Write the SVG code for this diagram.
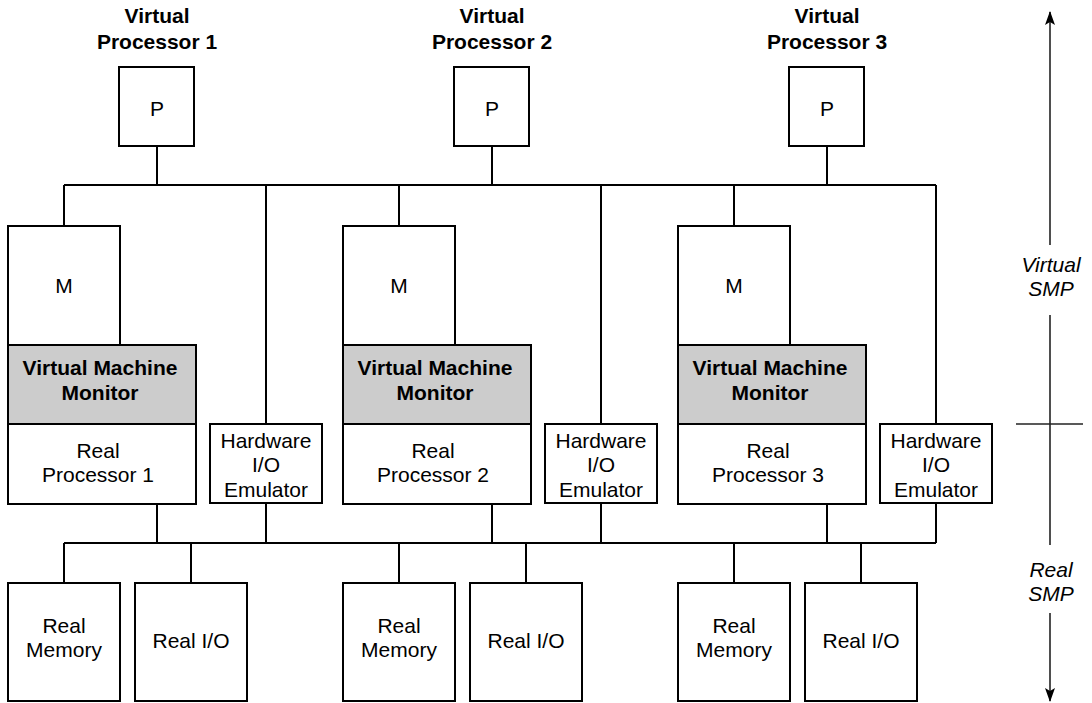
<svg xmlns="http://www.w3.org/2000/svg" width="1092" height="703" viewBox="0 0 1092 703">
<style>
text{font-family:"Liberation Sans",Arial,sans-serif;font-size:21px;fill:#000;text-anchor:middle}
.b{font-weight:bold}
.i{font-style:italic}
.box{fill:#fff;stroke:#000;stroke-width:2}
.vmm{fill:#cccccc;stroke:#000;stroke-width:2}
.ln{fill:none;stroke:#000;stroke-width:2}
.ax{fill:none;stroke:#222;stroke-width:1.6}
</style>
<defs>
<marker id="ah" viewBox="0 0 14 10" refX="13" refY="5" markerWidth="14" markerHeight="10" markerUnits="userSpaceOnUse" orient="auto">
<path d="M0,0 L14,5 L0,10 L3,5 Z" fill="#000"/>
</marker>
</defs>
<g id="connectors">
<path class="ln" d="M64,185 H936 M157,146 V185 M492,146 V185 M827,146 V185 M64,185 V226 M399,185 V226 M734,185 V226 M266,185 V424 M601,185 V424 M936,185 V424"/>
<path class="ln" d="M64,543 H936 M157,504 V543 M492,504 V543 M827,504 V543 M266,503 V543 M601,503 V543 M936,503 V543 M64,543 V583 M399,543 V583 M734,543 V583 M191,543 V583 M526,543 V583 M861,543 V583"/>
</g>
<g id="axis">
<line class="ax" x1="1050" y1="245" x2="1050" y2="12" marker-end="url(#ah)"/>
<line class="ax" x1="1050" y1="315" x2="1050" y2="545"/>
<line class="ax" x1="1050" y1="613" x2="1050" y2="701" marker-end="url(#ah)"/>
<line class="ax" x1="1016" y1="424" x2="1083" y2="424"/>
<text class="i" x="1051" y="272">Virtual</text>
<text class="i" x="1051" y="296">SMP</text>
<text class="i" x="1051" y="577">Real</text>
<text class="i" x="1051" y="601">SMP</text>
</g>
<g id="vp1"><text class="b" x="157" y="23">Virtual</text><text class="b" x="157" y="49">Processor 1</text><rect class="box" x="119" y="67" width="75" height="79"/><text x="157" y="116">P</text></g>
<g id="vp2"><text class="b" x="492" y="23">Virtual</text><text class="b" x="492" y="49">Processor 2</text><rect class="box" x="454" y="67" width="75" height="79"/><text x="492" y="116">P</text></g>
<g id="vp3"><text class="b" x="827" y="23">Virtual</text><text class="b" x="827" y="49">Processor 3</text><rect class="box" x="789" y="67" width="75" height="79"/><text x="827" y="116">P</text></g>
<g id="m1"><rect class="box" x="8" y="226" width="112" height="119"/><text x="64" y="293">M</text></g>
<g id="m2"><rect class="box" x="343" y="226" width="112" height="119"/><text x="399" y="293">M</text></g>
<g id="m3"><rect class="box" x="678" y="226" width="112" height="119"/><text x="734" y="293">M</text></g>
<g id="vmm1"><rect class="vmm" x="8" y="345" width="188" height="79"/><text class="b" x="100" y="375">Virtual Machine</text><text class="b" x="100" y="400">Monitor</text></g>
<g id="vmm2"><rect class="vmm" x="343" y="345" width="188" height="79"/><text class="b" x="435" y="375">Virtual Machine</text><text class="b" x="435" y="400">Monitor</text></g>
<g id="vmm3"><rect class="vmm" x="678" y="345" width="188" height="79"/><text class="b" x="770" y="375">Virtual Machine</text><text class="b" x="770" y="400">Monitor</text></g>
<g id="rp1"><rect class="box" x="8" y="424" width="188" height="80"/><text x="98" y="458">Real</text><text x="98" y="482">Processor 1</text></g>
<g id="rp2"><rect class="box" x="343" y="424" width="188" height="80"/><text x="433" y="458">Real</text><text x="433" y="482">Processor 2</text></g>
<g id="rp3"><rect class="box" x="678" y="424" width="188" height="80"/><text x="768" y="458">Real</text><text x="768" y="482">Processor 3</text></g>
<g id="hw1"><rect class="box" x="210" y="424" width="112" height="79"/><text x="266" y="448">Hardware</text><text x="266" y="472">I/O</text><text x="266" y="497">Emulator</text></g>
<g id="hw2"><rect class="box" x="545" y="424" width="112" height="79"/><text x="601" y="448">Hardware</text><text x="601" y="472">I/O</text><text x="601" y="497">Emulator</text></g>
<g id="hw3"><rect class="box" x="880" y="424" width="112" height="79"/><text x="936" y="448">Hardware</text><text x="936" y="472">I/O</text><text x="936" y="497">Emulator</text></g>
<g id="mem1"><rect class="box" x="8" y="583" width="112" height="118"/><text x="64" y="633">Real</text><text x="64" y="657">Memory</text></g>
<g id="mem2"><rect class="box" x="343" y="583" width="112" height="118"/><text x="399" y="633">Real</text><text x="399" y="657">Memory</text></g>
<g id="mem3"><rect class="box" x="678" y="583" width="112" height="118"/><text x="734" y="633">Real</text><text x="734" y="657">Memory</text></g>
<g id="io1"><rect class="box" x="135" y="583" width="112" height="118"/><text x="191" y="648">Real I/O</text></g>
<g id="io2"><rect class="box" x="470" y="583" width="112" height="118"/><text x="526" y="648">Real I/O</text></g>
<g id="io3"><rect class="box" x="805" y="583" width="112" height="118"/><text x="861" y="648">Real I/O</text></g>
</svg>
